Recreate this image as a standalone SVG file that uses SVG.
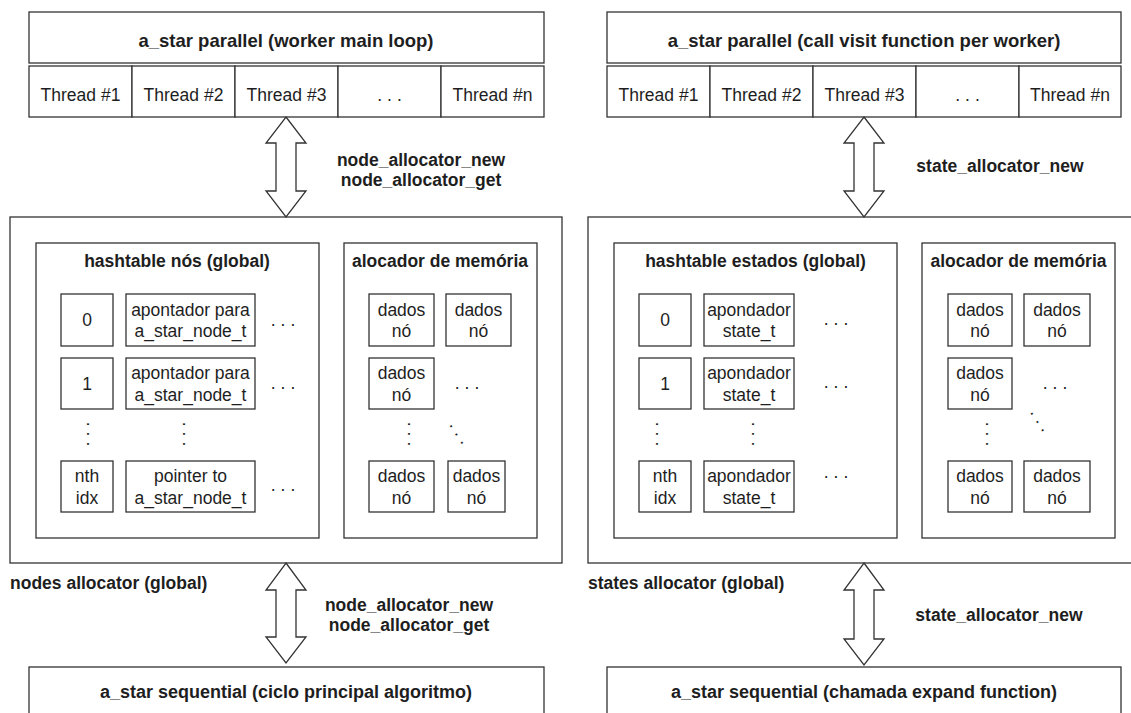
<svg xmlns="http://www.w3.org/2000/svg" width="1131" height="713" viewBox="0 0 1131 713">
<style>
rect{fill:#fff;stroke:#333;stroke-width:1.3}
text{font-family:"Liberation Sans",Arial,sans-serif;font-size:17.5px;fill:#1e1e1e;text-anchor:middle}
.b{font-weight:bold}
.t{font-size:18.5px}
.s{font-size:18px}
.l{text-anchor:start}
.d{letter-spacing:5px}
.arr{fill:#fff;stroke:#333;stroke-width:1.3;stroke-linejoin:miter}
</style>
<rect x="0" y="0" width="1131" height="713" style="stroke:none"/>

<!-- LEFT PANEL -->
<g id="left-parallel">
<rect x="29" y="12" width="515" height="51"/>
<text class="b t" x="286" y="47">a_star parallel (worker main loop)</text>
</g>
<g id="left-threads">
<rect x="29" y="66" width="103" height="51"/><text x="80.5" y="101">Thread #1</text>
<rect x="132" y="66" width="103" height="51"/><text x="183.5" y="101">Thread #2</text>
<rect x="235" y="66" width="103" height="51"/><text x="286.5" y="101">Thread #3</text>
<rect x="338" y="66" width="103" height="51"/><text class="d" x="392" y="101">...</text>
<rect x="441" y="66" width="103" height="51"/><text x="492.5" y="101">Thread #n</text>
</g>
<g id="left-allocator">
<rect x="10" y="217" width="552" height="346"/>
<text class="b l" x="10" y="589">nodes allocator (global)</text>
</g>
<g id="left-hashtable">
<rect x="36" y="243" width="283" height="295"/>
<text class="b" x="177" y="267">hashtable nós (global)</text>
<rect x="61" y="294" width="52" height="52"/><text x="87" y="326">0</text>
<rect x="126" y="294" width="129" height="52"/><text x="190.5" y="316">apontador para</text><text x="190.5" y="337">a_star_node_t</text>
<text class="d" x="285.5" y="326">...</text>
<rect x="61" y="358" width="52" height="51"/><text x="87" y="390">1</text>
<rect x="126" y="358" width="129" height="51"/><text x="190.5" y="379">apontador para</text><text x="190.5" y="401">a_star_node_t</text>
<text class="d" x="285.5" y="389">...</text>
<text class="d" transform="translate(87.5,434) rotate(90)" x="2.5" y="1">...</text>
<text class="d" transform="translate(184,434) rotate(90)" x="2.5" y="1">...</text>
<rect x="61" y="461" width="52" height="51"/><text x="87" y="482">nth</text><text x="87" y="504">idx</text>
<rect x="126" y="461" width="129" height="51"/><text x="190.5" y="482">pointer to</text><text x="190.5" y="504">a_star_node_t</text>
<text class="d" x="285.5" y="491">...</text>
</g>
<g id="left-memory">
<rect x="344" y="243" width="193" height="295"/>
<text class="b" x="440" y="267">alocador de memória</text>
<rect x="369" y="294" width="65" height="52"/><text x="401.5" y="316">dados</text><text x="401.5" y="337">nó</text>
<rect x="446" y="294" width="65" height="52"/><text x="478.5" y="316">dados</text><text x="478.5" y="337">nó</text>
<rect x="369" y="358" width="65" height="51"/><text x="401.5" y="379">dados</text><text x="401.5" y="401">nó</text>
<text class="d" x="469.5" y="389">...</text>
<text class="d" transform="translate(409,434) rotate(90)" x="2.5" y="1">...</text>
<text class="d" transform="translate(456.5,434.5) rotate(57)" x="2.5" y="1">...</text>
<rect x="369" y="461" width="65" height="51"/><text x="401.5" y="482">dados</text><text x="401.5" y="504">nó</text>
<rect x="448" y="461" width="57" height="51"/><text x="476.5" y="482">dados</text><text x="476.5" y="504">nó</text>
</g>
<g id="left-sequential">
<rect x="29" y="667" width="515" height="60"/>
<text class="b s" x="286" y="698">a_star sequential (ciclo principal algoritmo)</text>
</g>

<!-- RIGHT PANEL -->
<g id="right-parallel">
<rect x="607" y="12" width="514" height="51"/>
<text class="b t" x="864" y="47">a_star parallel (call visit function per worker)</text>
</g>
<g id="right-threads">
<rect x="607" y="66" width="103" height="51"/><text x="658.5" y="101">Thread #1</text>
<rect x="710" y="66" width="103" height="51"/><text x="761.5" y="101">Thread #2</text>
<rect x="813" y="66" width="103" height="51"/><text x="864.5" y="101">Thread #3</text>
<rect x="916" y="66" width="103" height="51"/><text class="d" x="970" y="101">...</text>
<rect x="1019" y="66" width="102" height="51"/><text x="1070" y="101">Thread #n</text>
</g>
<g id="right-allocator">
<rect x="588" y="217" width="560" height="346"/>
<text class="b l" x="588" y="589">states allocator (global)</text>
</g>
<g id="right-hashtable">
<rect x="614" y="243" width="283" height="295"/>
<text class="b" x="755.5" y="267">hashtable estados (global)</text>
<rect x="639" y="294" width="52" height="52"/><text x="665" y="326">0</text>
<rect x="704" y="294" width="90" height="52"/><text x="749" y="316">apondador</text><text x="749" y="337">state_t</text>
<text class="d" x="838.5" y="325">...</text>
<rect x="639" y="358" width="52" height="51"/><text x="665" y="390">1</text>
<rect x="704" y="358" width="90" height="51"/><text x="749" y="379">apondador</text><text x="749" y="401">state_t</text>
<text class="d" x="838.5" y="388">...</text>
<text class="d" transform="translate(657,434) rotate(90)" x="2.5" y="1">...</text>
<text class="d" transform="translate(753,434) rotate(90)" x="2.5" y="1">...</text>
<rect x="639" y="461" width="52" height="51"/><text x="665" y="482">nth</text><text x="665" y="504">idx</text>
<rect x="704" y="461" width="90" height="51"/><text x="749" y="482">apondador</text><text x="749" y="504">state_t</text>
<text class="d" x="838.5" y="478">...</text>
</g>
<g id="right-memory">
<rect x="922" y="243" width="193" height="295"/>
<text class="b" x="1018.5" y="267">alocador de memória</text>
<rect x="948" y="294" width="64" height="52"/><text x="980" y="316">dados</text><text x="980" y="337">nó</text>
<rect x="1024" y="294" width="66" height="52"/><text x="1057" y="316">dados</text><text x="1057" y="337">nó</text>
<rect x="948" y="358" width="64" height="51"/><text x="980" y="379">dados</text><text x="980" y="401">nó</text>
<text class="d" x="1057.5" y="389">...</text>
<text class="d" transform="translate(987,434) rotate(90)" x="2.5" y="1">...</text>
<text class="d" transform="translate(1037.4,422) rotate(57)" x="2.5" y="1">...</text>
<rect x="948" y="461" width="64" height="51"/><text x="980" y="482">dados</text><text x="980" y="504">nó</text>
<rect x="1024" y="461" width="66" height="51"/><text x="1057" y="482">dados</text><text x="1057" y="504">nó</text>
</g>
<g id="right-sequential">
<rect x="607" y="667" width="514" height="60"/>
<text class="b s" x="864" y="698">a_star sequential (chamada expand function)</text>
</g>

<!-- CONNECTORS -->
<g id="connectors">
<polygon class="arr" points="286,117 306,143 296,143 296,191 306,191 286,217 266,191 276,191 276,143 266,143"/>
<polygon class="arr" points="286,563 306,590 296,590 296,637 306,637 286,663 266,637 276,637 276,590 266,590"/>
<polygon class="arr" points="864,117 884,143 874,143 874,191 884,191 864,217 844,191 854,191 854,143 844,143"/>
<polygon class="arr" points="864,563 884,590 874,590 874,639 884,639 864,665 844,639 854,639 854,590 844,590"/>
<text class="b" x="421" y="166">node_allocator_new</text>
<text class="b" x="421" y="186">node_allocator_get</text>
<text class="b" x="409" y="611">node_allocator_new</text>
<text class="b" x="409" y="631">node_allocator_get</text>
<text class="b" x="1000" y="172">state_allocator_new</text>
<text class="b" x="999" y="621">state_allocator_new</text>
</g>
</svg>
